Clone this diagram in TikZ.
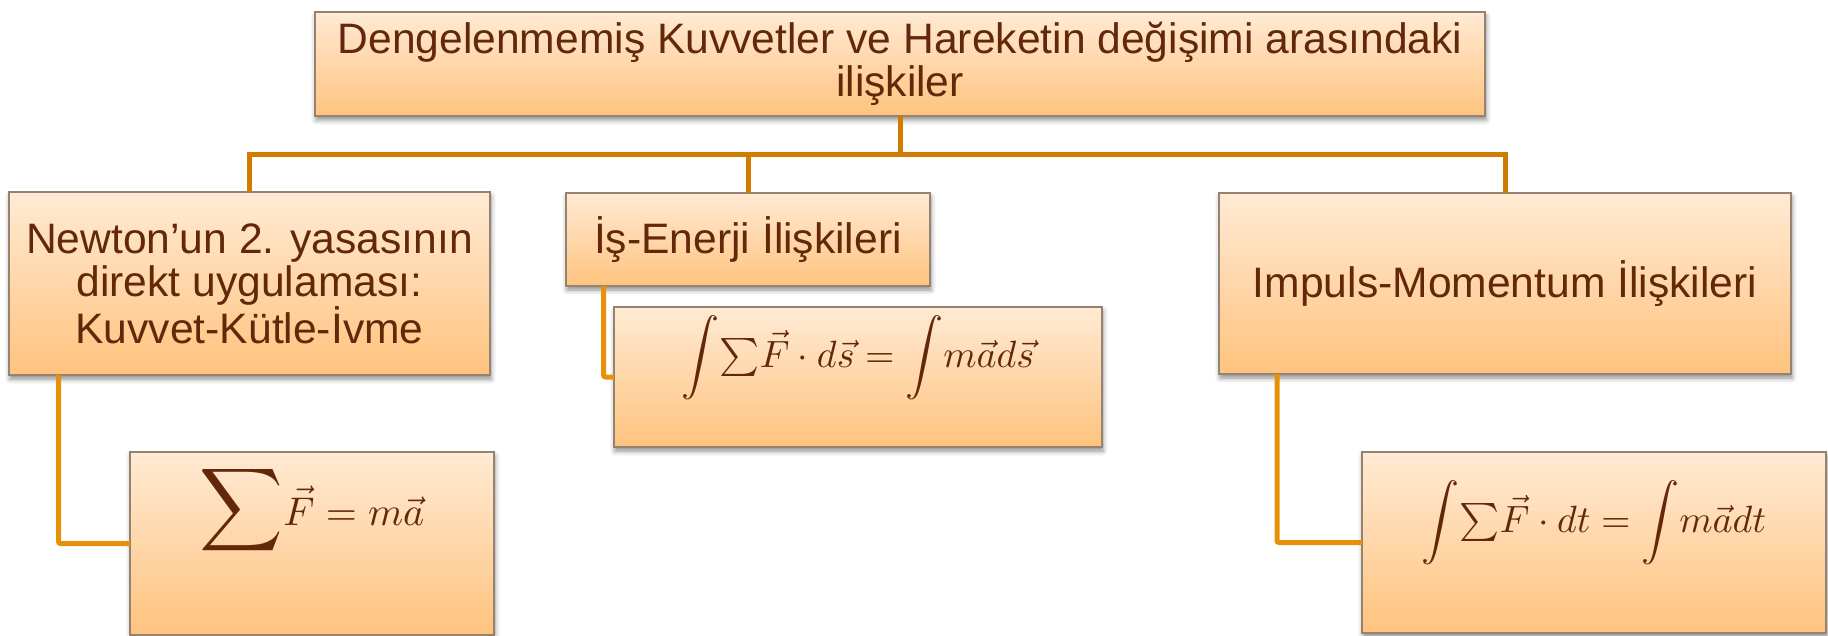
\RequirePackage{fix-cm}
\documentclass[tikz,border=0pt]{standalone}
\usepackage{amsmath}
\usepackage{graphicx}
\usepackage[no-math]{fontspec}
\setmainfont{Liberation Sans}
\usetikzlibrary{shadows.blur,calc}
\DeclareFontShape{OML}{cmm}{m}{it}{<->cmmi10}{}
\DeclareFontShape{OMS}{cmsy}{m}{n}{<->cmsy10}{}
\DeclareFontShape{OMX}{cmex}{m}{n}{<->cmex10}{}
\DeclareFontShape{OT1}{cmr}{m}{n}{<->cmr10}{}
\definecolor{txt}{RGB}{99,40,10}
\definecolor{boxtop}{RGB}{255,234,212}
\definecolor{boxbot}{RGB}{255,195,126}
\definecolor{boxline}{RGB}{150,130,112}
\definecolor{trunkc}{RGB}{208,124,0}
\definecolor{branchc}{RGB}{232,144,10}
\begin{document}
\begin{tikzpicture}[x=1pt,y=-1pt,
  box/.style={rectangle, draw=boxline, line width=1.2pt, top color=boxtop, bottom color=boxbot,
    inner sep=0pt, outer sep=0pt, anchor=north west, text=txt, align=center,
    font=\fontsize{42.6}{43}\selectfont,
    blur shadow={shadow xshift=1pt, shadow yshift=-4pt, shadow blur radius=5pt, shadow opacity=45}},
  mathbox/.style={box, font=\fontsize{38}{42}\selectfont},
  trunk/.style={draw=trunkc, line width=5pt},
  branch/.style={draw=branchc, line width=5pt, rounded corners=2pt}]
\useasboundingbox (0,0) rectangle (1828,636);

\node[box, minimum width=1170pt, minimum height=104pt] (top) at (315,12)
  {Dengelenmemiş Kuvvetler ve Hareketin değişimi arasındaki\\ilişkiler};
\node[box, minimum width=481pt, minimum height=183pt] (newton) at (9,192)
  {Newton’un 2. yasasının\\direkt uygulaması:\\Kuvvet-Kütle-İvme};
\node[box, minimum width=364pt, minimum height=93pt] (is) at (566,193)
  {İş-Enerji İlişkileri};
\node[box, minimum width=572pt, minimum height=181pt] (impuls) at (1219,193)
  {Impuls-Momentum İlişkileri};
\node[mathbox, font=\fontsize{40}{44}\selectfont, minimum width=364pt, text height=73pt, text depth=110pt] (sum) at (130,452)
  {$\scalebox{1.45}{$\displaystyle\sum$}\vec{F}=m\vec{a}$};
\node[mathbox, minimum width=488pt, text height=60pt, text depth=80pt] (intds) at (614,307)
  {$\displaystyle\int\!\textstyle\sum\!\vec{F}\cdot d\vec{s}=\displaystyle\int\! m\vec{a}d\vec{s}$};
\node[mathbox, minimum width=464pt, text height=80pt, text depth=101pt] (intdt) at (1362,452)
  {$\displaystyle\int\!\textstyle\sum\!\vec{F}\cdot dt=\displaystyle\int\! m\vec{a}dt$};

\draw[trunk] (top.south) -- ++(0,38.5) coordinate (hub);
\draw[trunk] (newton.north) |- (hub) -| (impuls.north);
\draw[trunk] (is.north) -- (is.north |- hub);

\draw[branch] ([xshift=49.5pt]newton.south west) |- (sum.west);
\draw[branch] ([xshift=37.5pt]is.south west) |- (intds.west);
\draw[branch] ([xshift=58pt]impuls.south west) |- (intdt.west);
\end{tikzpicture}
\end{document}
